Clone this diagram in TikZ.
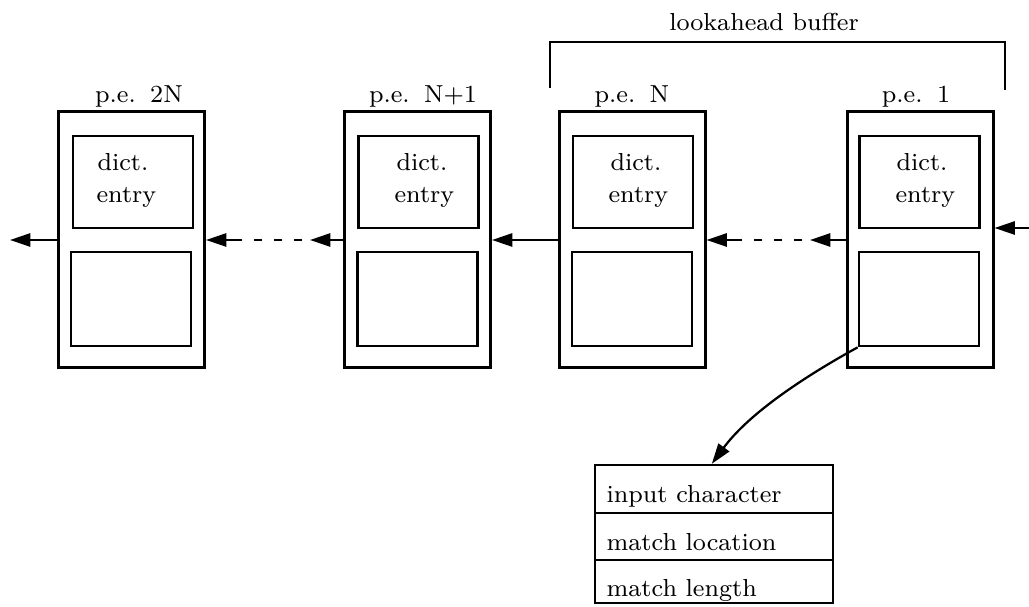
\documentclass[tikz,border=0pt]{standalone}
\usetikzlibrary{arrows.meta,calc}
\begin{document}
\begin{tikzpicture}[x=0.33333pt,y=-0.33333pt,
  font=\fontsize{8.2}{9.8}\selectfont,
  pebox/.style={draw,line width=1pt,minimum width=48.67pt,minimum height=85.33pt,inner sep=0pt},
  topcell/.style={draw,line width=0.9pt,minimum width=40pt,minimum height=30.67pt,inner sep=0pt},
  botcell/.style={draw,line width=0.9pt,minimum width=40pt,minimum height=31.33pt,inner sep=0pt},
  row/.style={draw,line width=0.8pt,minimum width=79.33pt,inner sep=0pt},
  lbl/.style={anchor=base,inner sep=0pt},
  txt/.style={anchor=base west,inner sep=0pt},
  conn/.style={line width=0.75pt,-{Triangle[length=6.8pt,width=4.4pt]}},
  dashline/.style={line width=0.75pt,dash pattern=on 2.67pt off 4pt,dash phase=4pt}]
\useasboundingbox[fill=white] (0,0) rectangle (1029,607);

% processing elements
\node[pebox] (p2N) at (131.5,240) {};
\node[pebox] (pN1) at (417.5,240) {};
\node[pebox] (pN)  at (632,240) {};
\node[pebox] (p1)  at (920,240) {};

% dictionary-entry cells and empty cells
\node[topcell] (p2Nt) at (133,182) {};
\node[topcell] (pN1t) at (418.5,182) {};
\node[topcell] (pNt)  at (633,182) {};
\node[topcell] (p1t)  at (919.5,182) {};
\node[botcell] (p2Nb) at (131,299) {};
\node[botcell] (pN1b) at (417.5,299) {};
\node[botcell] (pNb)  at (632,299) {};
\node[botcell] (p1b)  at (919,299) {};

% element labels
\newcommand\pesep{\hspace{4.8pt}}
\node[lbl] (l2N) at (139,103) {p.e.\pesep 2N};
\node[lbl] (lN1) at (423,103) {p.e.\pesep N+1};
\node[lbl] (lN)  at (632,103) {p.e.\pesep N};
\node[lbl] (l1)  at (916,103) {p.e.\pesep 1};

% cell texts
\node[txt] (d2N) at (97,171) {dict.};
\node[txt] (e2N) at (96,203) {entry};
\node[txt] (dN1) at (396,171) {dict.};
\node[txt] (eN1) at (394,203) {entry};
\node[txt] (dN)  at (610,171) {dict.};
\node[txt] (eN)  at (608,203) {entry};
\node[txt] (d1)  at (896,171) {dict.};
\node[txt] (e1)  at (895,203) {entry};

% lookahead buffer bracket
\coordinate (bl) at (550,88);
\coordinate (br) at (1005,90);
\draw[line width=0.75pt] (bl) -- (550,42) -| (br);
\node[lbl] (buf) at (764,31) {lookahead buffer};

% shift chain
\coordinate (src)  at (1029,228);
\coordinate (sink) at (10,240);
\coordinate (m1) at (310,240);
\coordinate (m2) at (240,240);
\coordinate (m3) at (810,240);
\coordinate (m4) at (740,240);
\draw[conn] (src) -- (p1.east |- src);
\draw[conn] (p1.west) -- (m3);
\draw[dashline] (m3) -- (m4);
\draw[conn] (m4) -- (pN.east);
\draw[conn] (pN.west) -- (pN1.east);
\draw[conn] (pN1.west) -- (m1);
\draw[dashline] (m1) -- (m2);
\draw[conn] (m2) -- (p2N.east);
\draw[conn] (p2N.west) -- (sink);

% output record
\node[row,minimum height=16pt]    (r1) at (714,489) {};
\node[row,minimum height=15.67pt] (r2) at (714,536.5) {};
\node[row,minimum height=14.33pt] (r3) at (714,581.5) {};
\node[txt] (t1) at (606,503) {input character};
\node[txt] (t2) at (606,550) {match location};
\node[txt] (t3) at (606,596) {match length};

\coordinate (tip) at ($(r1.north west)+(118,0)$);
\draw[conn] (p1b.south west) .. controls (820,368) and (753,408) .. (tip);
\end{tikzpicture}
\end{document}
